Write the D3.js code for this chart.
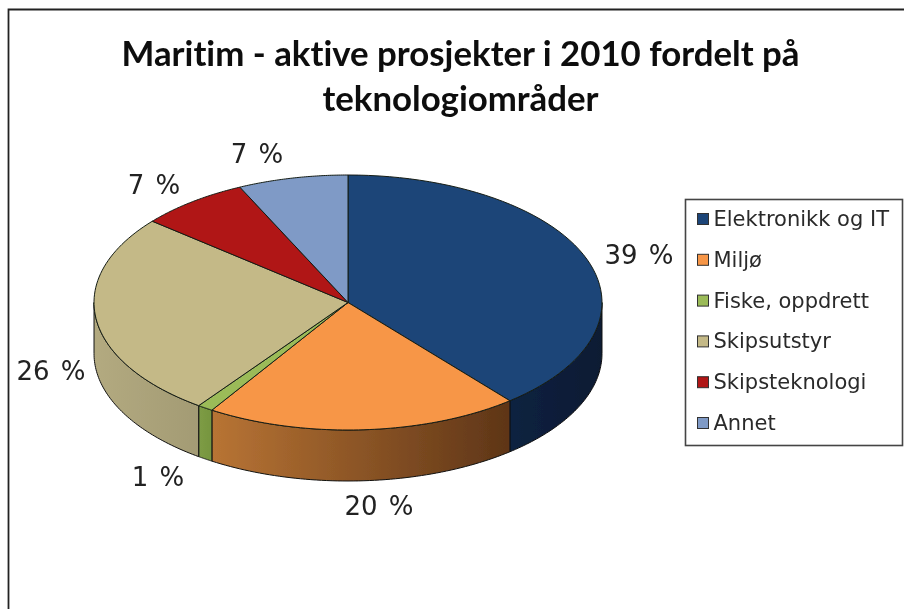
<!DOCTYPE html>
<html><head><meta charset="utf-8">
<script src="https://cdn.jsdelivr.net/npm/d3@7"></script>
<style>html,body{margin:0;padding:0;background:#fff;overflow:hidden}svg{display:block}</style>
</head><body><div id="chart"></div>
<script>
const titleLines = ["Maritim - aktive prosjekter i 2010 fordelt på", "teknologiområder"];
const categories = ["Elektronikk og IT", "Miljø", "Fiske, oppdrett", "Skipsutstyr", "Skipsteknologi", "Annet"];
const values = [39, 20, 1, 26, 7, 7];
const topColors = ["#1c4478", "#f79646", "#9bbb59", "#c4b987", "#b01212", "#7f9ac6"];
const sideFrom = ["#0b2240", "#b87434", "#7d9c45", "#b3aa80", "#7a0c0c", "#5a7093"];
const sideTo = ["#071a33", "#5e3517", "#76953f", "#a39b74", "#7a0c0c", "#5a7093"];

// layout only
const W = 904, H = 609;
const cx = 348, cy = 302.5, rx = 254, ry = 127.5, depth = 51;
const labelOffsets = [[291, -48], [31, 203], [-190, 174], [-297, 68], [-194, -118], [-91, -149]];

const svg = d3.select("#chart").append("svg").attr("width", W).attr("height", H)
  .style("font-family", "'DejaVu Sans'");
const defs = svg.append("defs");
defs.append("filter").attr("id", "soft").attr("x", "-5%").attr("y", "-5%").attr("width", "110%").attr("height", "110%")
  .append("feGaussianBlur").attr("stdDeviation", 0.5);

const root = svg.append("g").attr("filter", "url(#soft)");

// frame
root.append("path").attr("d", `M8.5,${H} V9.5 H${W}`).attr("fill", "none").attr("stroke", "#222").attr("stroke-width", 1.8);

// title
root.append("g").selectAll("text").data(titleLines).join("text")
  .attr("x", 460.5).attr("y", (d, i) => 66 + i * 45)
  .attr("text-anchor", "middle")
  .style("font-family", "Lato, 'Open Sans', sans-serif").style("font-weight", 700).style("font-size", "34.8px")
  .style("font-variant-ligatures", "none")
  .attr("fill", "#0a0a0a").text(d => d);

// pie geometry
const arcs = d3.pie().sort(null).value(d => d)(values);
const px = d3.scaleLinear().domain([-1, 1]).range([cx - rx, cx + rx]);
const py = d3.scaleLinear().domain([-1, 1]).range([cy - ry, cy + ry]);
const pt = (a, dz = 0) => [px(Math.sin(a)), py(-Math.cos(a)) + dz];
const sweep = (a0, a1, dz) => d3.range(0, 61).map(i => pt(a0 + (a1 - a0) * i / 60, dz));
const line = d3.line();

// side walls (front half only)
const pieG = root.append("g");
arcs.forEach((a, i) => {
  const a0 = Math.max(a.startAngle, Math.PI / 2), a1 = Math.min(a.endAngle, 3 * Math.PI / 2);
  if (a1 <= a0) return;
  const gid = "side" + i;
  const [xa] = pt(a0), [xb] = pt(a1);
  const g = defs.append("linearGradient").attr("id", gid).attr("gradientUnits", "userSpaceOnUse")
    .attr("x1", Math.min(xa, xb)).attr("x2", Math.max(xa, xb)).attr("y1", 0).attr("y2", 0);
  g.append("stop").attr("offset", 0).attr("stop-color", sideFrom[i]);
  g.append("stop").attr("offset", 1).attr("stop-color", sideTo[i]);
  const pts = sweep(a0, a1, 0).concat(sweep(a1, a0, depth));
  pieG.append("path").attr("d", line(pts) + "Z").attr("fill", `url(#${gid})`)
    .attr("stroke", "#111").attr("stroke-width", 1).attr("stroke-linejoin", "round");
});

// top slices
arcs.forEach((a, i) => {
  const pts = [[cx, cy]].concat(sweep(a.startAngle, a.endAngle, 0));
  pieG.append("path").attr("d", line(pts) + "Z").attr("fill", topColors[i])
    .attr("stroke", "#141c14").attr("stroke-width", 1).attr("stroke-linejoin", "round");
});

// data labels
root.append("g").selectAll("text").data(values).join("text")
  .attr("x", (d, i) => cx + labelOffsets[i][0])
  .attr("y", (d, i) => cy + labelOffsets[i][1])
  .attr("text-anchor", "middle").attr("dominant-baseline", "central")
  .style("font-size", "26px").style("word-spacing", "3px").attr("fill", "#222")
  .text(d => d + " %");

// legend
const lg = root.append("g");
lg.append("rect").attr("x", 685.5).attr("y", 199.5).attr("width", 217).attr("height", 246)
  .attr("fill", "#fff").attr("stroke", "#444").attr("stroke-width", 1.6);
const ly = d3.scalePoint().domain(categories).range([219, 423]);
const items = lg.selectAll("g").data(categories).join("g").attr("transform", d => `translate(0,${ly(d)})`);
items.append("rect").attr("x", 697.5).attr("y", -5.5).attr("width", 11).attr("height", 11)
  .attr("fill", (d, i) => topColors[i]).attr("stroke", "#333").attr("stroke-width", 1);
items.append("text").attr("x", 713.5).attr("dominant-baseline", "central")
  .style("font-size", "21px").attr("fill", "#2a2a2a").text(d => d);
</script></body></html>
